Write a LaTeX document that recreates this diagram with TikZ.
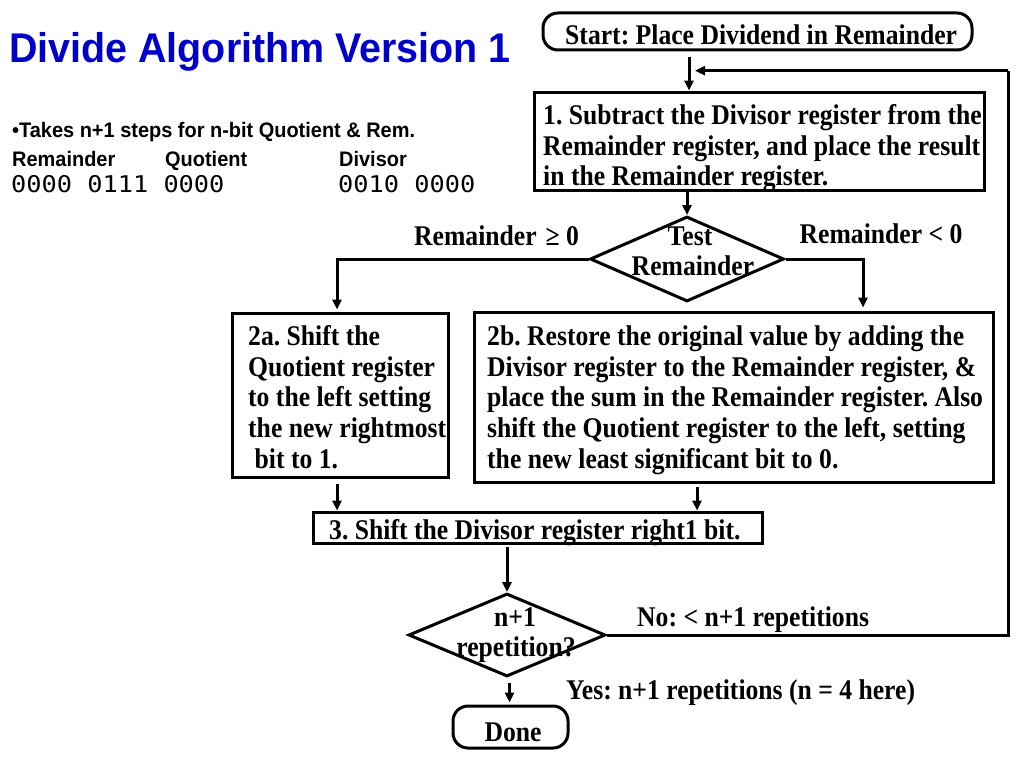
\documentclass[tikz,border=0pt]{standalone}
\usepackage{fontspec}
\usetikzlibrary{arrows.meta,shapes.geometric}
\newfontfamily\serb{Liberation Serif}[FakeStretch=0.9]
\newfontfamily\sanb{Liberation Sans}[FakeStretch=0.95]
\newfontfamily\monr{DejaVu Sans Mono}[FakeStretch=1.1]
\definecolor{titleblue}{RGB}{0,0,204}
\frenchspacing
\begin{document}
\begin{tikzpicture}[x=1pt,y=-1pt,
  ln/.style={line width=3pt},
  arr/.style={line width=3pt,-{Triangle[length=10pt,width=9pt]}},
  box/.style={draw,line width=3pt,inner sep=0pt},
  term/.style={box,rounded corners=15pt},
  dia/.style={draw,diamond,line width=3pt,inner sep=0pt},
  txt/.style={font=\serb\bfseries\fontsize{28.5}{30.8}\selectfont,inner sep=0pt,align=left},
  ctxt/.style={font=\serb\bfseries\fontsize{28.5}{30.8}\selectfont,inner sep=0pt},
  small/.style={font=\sanb\bfseries\fontsize{21}{24}\selectfont,inner sep=0pt,anchor=base west},
  mono/.style={font=\monr\fontsize{23}{26}\selectfont,inner sep=0pt,anchor=base west}
]
\useasboundingbox[fill=white] (0,0) rectangle (1024,768);

% title and side text
\node[font=\sanb\bfseries\fontsize{41.5}{45}\selectfont,text=titleblue,inner sep=0pt,anchor=base west] (title) at (9,62.7) {Divide Algorithm Version 1};
\node[small] (takes) at (12,137.5) {•Takes n+1 steps for n-bit Quotient \& Rem.};
\node[small] (hrem) at (12,166) {Remainder};
\node[small] (hquo) at (165,166) {Quotient};
\node[small] (hdiv) at (339,166) {Divisor};
\node[mono] (vrem) at (11,192.7) {0000 0111 0000};
\node[mono] (vdiv) at (338,192.7) {0010 0000};

% shapes
\node[term,minimum width=429pt,minimum height=37pt] (start) at (757.5,31.5) {};
\node[box,minimum width=450pt,minimum height=98pt] (s1) at (759,141) {};
\node[dia,minimum width=194pt,minimum height=85pt] (d1) at (687,259) {};
\node[box,minimum width=216pt,minimum height=164pt] (s2a) at (340,395) {};
\node[box,minimum width=519pt,minimum height=170pt] (s2b) at (733.5,397) {};
\node[box,minimum width=449pt,minimum height=31pt] (s3) at (537.5,527.5) {};
\node[dia,minimum width=197pt,minimum height=83pt] (d2) at (507,635) {};
\node[term,minimum width=115pt,minimum height=42pt] (done) at (510.5,727) {};

% texts
\node[ctxt,anchor=base west] (tstart) at (565,45) {Start: Place Dividend in Remainder};
\node[txt,anchor=north west] (t1) at (543,104) {\rule{0pt}{20pt}1. Subtract the Divisor register from the\\Remainder register, and place the result\\in the Remainder register.};
\node[ctxt,anchor=base] (tt1) at (690,245.3) {Test};
\node[ctxt,anchor=base] (tt2) at (693,275.3) {Remainder};
\node[ctxt,anchor=base west] (lge) at (414,245) {Remainder\hspace{9pt}≥ 0};
\node[ctxt,anchor=base west] (llt) at (799.5,243) {Remainder < 0};
\node[txt,anchor=north west] (t2a) at (248,325) {\rule{0pt}{20pt}2a. Shift the\\Quotient register\\to the left setting\\the new rightmost\\\hspace*{6.5pt}bit to 1.};
\node[txt,anchor=north west] (t2b) at (487,325) {\rule{0pt}{20pt}2b. Restore the original value by adding the\\Divisor register to the Remainder register, \&\\place the sum in the Remainder register. Also\\shift the Quotient register to the left, setting\\the new least significant bit to 0.};
\node[ctxt,anchor=base west] (t3) at (329,539) {3. Shift the Divisor register right1 bit.};
\node[ctxt,anchor=base] (tn1) at (515,626.5) {n+1};
\node[ctxt,anchor=base] (tn2) at (516,656) {repetition?};
\node[ctxt,anchor=base west] (lno) at (637,626) {No: < n+1 repetitions};
\node[ctxt,anchor=base west] (lyes) at (566,699) {Yes: n+1 repetitions (n = 4 here)};
\node[ctxt,anchor=base] (tdone) at (513,741) {Done};

% connector helper coordinates
\coordinate (ax0) at (689,0);
\coordinate (ax2a) at (337,0);
\coordinate (ax2b) at (863,0);
\coordinate (ax3) at (697,0);
\coordinate (axd) at (509.5,0);
\coordinate (lp) at (1008,70.7);
\coordinate (lpend) at (695,70.7);

% connectors
\draw[arr] ([yshift=-6pt]start.south -| ax0) -- (s1.north -| ax0);
\draw[ln] (d2.east) -| (lp);
\draw[arr] (lp) -- (lpend);
\draw[arr] (s1.south -| d1.north) -- (d1.north);
\draw[ln] (d1.west) -| ([yshift=20pt]s2a.north -| ax2a);
\draw[arr] ([yshift=21.5pt]s2a.north -| ax2a) -- ([yshift=2pt]s2a.north -| ax2a);
\draw[ln] (d1.east) -| ([yshift=20pt]s2b.north -| ax2b);
\draw[arr] ([yshift=21.5pt]s2b.north -| ax2b) -- ([yshift=3pt]s2b.north -| ax2b);
\draw[arr] ([yshift=-5pt]s2a.south -| ax2a) -- (s3.north -| ax2a);
\draw[arr] ([yshift=-3pt]s2b.south -| ax3) -- (s3.north -| ax3);
\draw[arr] ([yshift=-2pt]s3.south -| d2.north) -- (d2.north);
\draw[arr] ([yshift=-5pt]d2.south -| axd) -- ([yshift=2pt]done.north -| axd);
\end{tikzpicture}
\end{document}
